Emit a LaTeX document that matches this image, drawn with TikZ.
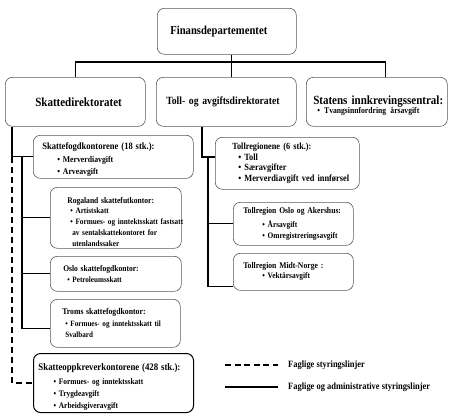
\documentclass[tikz,border=0pt]{standalone}
\usepackage{fontspec}
\setmainfont{Liberation Serif}[FakeStretch=0.88]
\usetikzlibrary{calc}
\tikzstyle{box}=[draw=black!65, line width=0.6pt, rounded corners=7pt, anchor=north west, inner xsep=0pt, inner ysep=0pt, align=left, font=\bfseries]
\tikzstyle{line}=[line width=1.1pt]
\tikzstyle{dline}=[line width=1.1pt, dash pattern=on 6pt off 4pt]
\tikzstyle{legend}=[anchor=west, inner sep=0pt, font=\bfseries\fontsize{9.6}{11}\selectfont]
\tikzset{lpad/.style={execute at begin node={\leftskip=#1\rightskip=-30pt plus 1fil\relax}}}
\newcommand{\bul}{\textbullet\ }
\newcommand{\fs}[2]{\fontsize{#1}{#2}\selectfont}
\newcommand{\strt}[1]{\rule{0pt}{#1}}

\begin{document}
\begin{tikzpicture}[x=1pt,y=-1pt]
\useasboundingbox (0,0) rectangle (452,418);

% top levels
\node[box, text width=139pt, minimum height=46pt, lpad=13pt, font=\bfseries\fs{12.1}{13}] (fin) at (157,8) {Finansdepartementet};
\node[box, text width=140pt, minimum height=49pt, lpad=30pt, font=\bfseries\fs{12.5}{13}] (skd) at (5,77) {Skattedirektoratet};
\node[box, text width=140pt, minimum height=49pt, lpad=10pt, font=\bfseries\fs{11}{13}] (toll) at (156,77) {Toll- og avgiftsdirektoratet};
\node[box, text width=141pt, minimum height=49pt, lpad=7pt, font=\bfseries\fs{12.5}{13}] (sik) at (306,77)
 {\strt{15.5pt}Statens innkrevingssentral:\\[-4pt] {\fs{8.7}{9}\hspace*{4pt}\bul Tvangsinnfordring årsavgift}};

% skatteetaten
\node[box, text width=160pt, minimum height=43pt, lpad=9pt, font=\bfseries\fs{8.8}{12.5}] (sfk) at (33,135)
 {{\fs{9.7}{12.5}\strt{12.5pt}Skattefogdkontorene (18 stk.):}\\ \hspace*{15pt}\bul Merverdiavgift\\ \hspace*{15pt}\bul Arveavgift};
\node[box, text width=131pt, minimum height=61pt, lpad=17pt, font=\bfseries\fs{8.2}{10.8}] (rog) at (50,187)
 {{\fs{8.6}{10.8}\strt{14pt}Rogaland skattefutkontor:}\\ \hspace*{3pt}\bul Artistskatt\\ \hspace*{3pt}\bul Formues- og inntektsskatt fastsatt\\ \hspace*{5pt}av sentalskattekontoret for\\ \hspace*{5pt}utenlandssaker};
\node[box, text width=131pt, minimum height=35pt, lpad=13pt, font=\bfseries\fs{8.1}{11}] (osl) at (50,256)
 {{\fs{8.6}{11}Oslo skattefogdkontor:}\\ \hspace*{4pt}\bul Petroleumsskatt};
\node[box, text width=130pt, minimum height=48pt, lpad=12pt, font=\bfseries\fs{8.1}{11.5}] (tro) at (50,299)
 {{\fs{8.8}{11.5}Troms skattefogdkontor:}\\ \hspace*{3pt}\bul Formues- og inntektsskatt til\\ \hspace*{3pt}Svalbard};
\node[box, draw=black, line width=1pt, text width=160pt, minimum height=59pt, lpad=5pt, font=\bfseries\fs{8.4}{11.8}] (sok) at (33,353)
 {{\fs{10}{11.8}\strt{15pt}Skatteoppkreverkontorene (428 stk.):}\\[2pt] \hspace*{15pt}\bul Formues- og inntektsskatt\\ \hspace*{15pt}\bul Trygdeavgift\\ \hspace*{15pt}\bul Arbeidsgiveravgift};

% tolletaten
\node[box, text width=144pt, minimum height=52pt, lpad=17pt, font=\bfseries\fs{9.5}{10.7}] (trg) at (215,137)
 {{\fs{9.4}{10.7}Tollregionene (6 stk.):}\\ \hspace*{6pt}\bul Toll\\ \hspace*{6pt}\bul Særavgifter\\ \hspace*{6pt}\bul Merverdiavgift ved innførsel};
\node[box, text width=120pt, minimum height=43pt, lpad=10pt, font=\bfseries\fs{8.4}{11}] (toa) at (233,202)
 {{\fs{8.7}{11}Tollregion Oslo og Akershus:}\\[3pt] \hspace*{19pt}\bul Årsavgift\\ \hspace*{19pt}\bul Omregistreringsavgift};
\node[box, text width=120pt, minimum height=37pt, lpad=10pt, font=\bfseries\fs{8.4}{10}] (mid) at (233,253)
 {{\fs{8.7}{10}Tollregion Midt-Norge :}\\ \hspace*{19pt}\bul Vektårsavgift};

% legend
\node[legend] (lgd1) at (288,365) {Faglige styringslinjer};
\node[legend] (lgd2) at (288,387) {Faglige og administrative styringslinjer};

% lines
\coordinate (bar) at ([xshift=4.5pt]fin.south |- 0,62);
\draw[line] ([xshift=4.5pt]fin.south) -- ([xshift=4.5pt]fin.south |- toll.north);
\draw[line] (skd.north) |- (bar) -| ([xshift=8.5pt]sik.north);

\coordinate (sa) at ([xshift=7pt]skd.south west);
\coordinate (sb) at ($(sa |- sfk.west)+(10,0)$);
\draw[line] (sa) |- (sfk.west);
\draw[line] (sb) |- (rog.west);
\draw[line] (sb) |- (osl.west);
\draw[line] (sb) |- ([yshift=-5pt]tro.west);
\draw[dline] (sa |- sfk.west) |- (sok.west);

\coordinate (ta) at ([xshift=46pt]toll.south west);
\coordinate (tb) at ($(ta)+(6,31)$);
\draw[line] (ta) |- ([yshift=-20pt]trg.north west);
\draw[line] (tb) |- (toa.west);
\draw[line] (tb) |- ([yshift=4pt]mid.south west);

\draw[dline, dash pattern=on 6pt off 3.5pt] ([xshift=-63pt]lgd1.west) -- ([xshift=-10pt]lgd1.west);
\draw[line] ([xshift=-63pt]lgd2.west) -- ([xshift=-10pt]lgd2.west);

\end{tikzpicture}
\end{document}
